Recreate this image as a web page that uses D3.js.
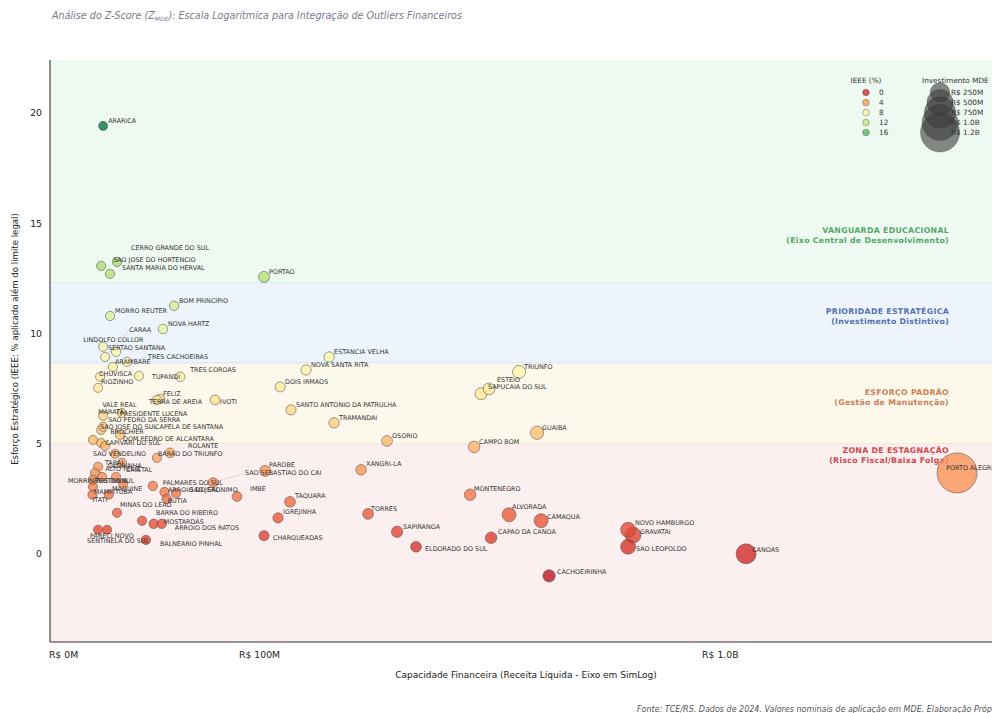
<!DOCTYPE html>
<html><head><meta charset="utf-8">
<script src="https://cdn.jsdelivr.net/npm/d3@7"></script>
<style>
body{margin:0;background:#fff}
svg{display:block}
text{font-family:"DejaVu Sans",sans-serif}
</style>
</head><body><svg id="chart" width="992" height="713"></svg>
<script>
// ---------------- DATA ----------------
const municipios = [
 "ARARICA","CERRO GRANDE DO SUL","SAO JOSE DO HORTENCIO","SANTA MARIA DO HERVAL","PORTAO",
 "BOM PRINCIPIO","MORRO REUTER","NOVA HARTZ","LINDOLFO COLLOR","SERTAO SANTANA","CARAA","TRES CACHOEIRAS","ARAMBARE",
 "CHUVISCA","RIOZINHO","TUPANDI","TRES COROAS","FELIZ","TERRA DE AREIA","IVOTI","NOVA SANTA RITA","ESTANCIA VELHA",
 "DOIS IRMAOS","SANTO ANTONIO DA PATRULHA","TRAMANDAI","OSORIO","CAMPO BOM","ESTEIO","SAPUCAIA DO SUL","TRIUNFO","GUAIBA",
 "VALE REAL","PRESIDENTE LUCENA","MARATA","SAO PEDRO DA SERRA","SAO JOSE DO SUL","CAPELA DE SANTANA","BROCHIER",
 "DOM PEDRO DE ALCANTARA","CAPIVARI DO SUL","ROLANTE","BARAO DO TRIUNFO","SAO VENDELINO","GLORINHA","TABAI","ALTO FELIZ","CRISTAL",
 "MORRINHOS DO SUL","TEUTONIA","PALMARES DO SUL","SAO JERONIMO","ARROIO DO SAL","IMBE","MAMPITUBA","MAQUINE","ITATI",
 "MINAS DO LEAO","BUTIA","BARRA DO RIBEIRO","MOSTARDAS","ARROIO DOS RATOS","BALNEARIO PINHAL","PARECI NOVO","SENTINELA DO SUL",
 "PAROBE","SAO SEBASTIAO DO CAI","XANGRI-LA","MONTENEGRO","TAQUARA","IGREJINHA","CHARQUEADAS","TORRES","SAPIRANGA",
 "ELDORADO DO SUL","CAPAO DA CANOA","ALVORADA","CAMAQUA","NOVO HAMBURGO","GRAVATAI","SAO LEOPOLDO","CANOAS","PORTO ALEGRE","CACHOEIRINHA"
];
// Receita líquida (R$ milhões)
const receitaM = [
 14.9,20.6,14.1,17.7,103.6,
 47.5,17.7,41.8,14.9,20.2,15.7,24.9,18.9,
 13.7,12.9,30.3,50.7,40.3,38.8,70.7,137.1,157.9,
 115.8,124.5,162.6,218.9,339.7,364.8,351.2,419.6,455.5,
 14.9,22.7,14.1,14.9,10.9,21.9,14.1,
 19.8,15.7,45.4,38.8,12.9,11.7,22.7,14.5,20.2,
 10.9,10.9,36.8,42.6,48.5,84.7,17.2,23.2,10.7,
 20.6,43.7,31.7,37.2,41.2,33.5,12.9,16.5,
 104.4,69.5,189.9,333.2,123.7,114.2,103.6,197.4,230.9,
 254.8,368.3,400.6,463.9,680.1,694.8,680.1,1113.8,2585,480.9
];
// IEEE (%)
const ieee = [
 19.41,13.24,13.06,12.70,12.56,
 11.25,10.79,10.20,9.39,9.16,8.93,8.71,8.48,
 8.03,7.53,8.07,8.03,7.03,6.98,6.98,8.34,8.93,
 7.57,6.53,5.94,5.12,4.85,7.48,7.26,8.25,5.49,
 6.26,6.39,5.62,5.76,5.17,5.40,5.03,
 4.54,4.90,4.58,4.35,3.95,3.67,4.13,3.49,3.49,
 3.36,3.04,3.08,2.80,2.75,2.60,2.68,3.17,2.68,
 1.86,2.49,1.50,1.36,1.36,0.63,1.09,1.09,
 3.76,3.23,3.81,2.68,2.36,1.63,0.82,1.81,1.00,
 0.32,0.73,1.77,1.50,1.09,0.85,0.32,0.0,3.67,-1.0
];
// Investimento em MDE (R$ milhões)
const mdeM = [
 3,6,5,5,34,
 8,5,8,3,4,3,6,4,
 3,3,5,10,6,6,14,20,22,
 18,18,24,30,45,50,55,74,80,
 3,4,3,3,3,8,4,
 3,4,12,4,3,3,3,3,4,
 3,4,8,10,6,14,3,5,4,
 4,10,6,8,8,6,3,3,
 34,14,26,45,30,22,20,30,40,
 30,45,95,95,120,147,120,267,1267,60
];
const xTicks = [0, 100, 1000];
const xTickLabels = ["R$ 0M", "R$ 100M", "R$ 1.0B"];
const yTicks = [0, 5, 10, 15, 20];
const faixaLimites = [5.0, 8.66, 12.3];
const faixaNomes = ["ZONA DE ESTAGNAÇÃO","ESFORÇO PADRÃO","PRIORIDADE ESTRATÉGICA","VANGUARDA EDUCACIONAL"];
const faixaSub = ["(Risco Fiscal/Baixa Folga)","(Gestão de Manutenção)","(Investimento Distintivo)","(Eixo Central de Desenvolvimento)"];
const legendaIeee = [0, 4, 8, 12, 16];
const legendaMde = [250, 500, 750, 1000, 1200];
const legendaMdeLabels = ["R$ 250M","R$ 500M","R$ 750M","R$ 1.0B","R$ 1.2B"];

// ---------------- LAYOUT / STYLE ----------------
const L = 50, T = 60, B = 642, R = 1040;
const faixaFill = ["#fcefef","#fdf8ec","#edf4fc","#eef9f1"];
const faixaLine = ["#f6d9d9","#f6ead0","#d5e5f5","#d4eedb"];
const faixaText = ["#d0484c","#c98154","#5470b2","#55a868"];
const labelNudge = {
 "CERRO GRANDE DO SUL":[9,-9],"SAO JOSE DO HORTENCIO":[7,-1],"SANTA MARIA DO HERVAL":[7,-1],
 "CARAA":[19,-22],"LINDOLFO COLLOR":[-25,-2],"SERTAO SANTANA":[-13,1],"TRES CACHOEIRAS":[16,0],"ARAMBARE":[-3,0],
 "CHUVISCA":[-6,2],"RIOZINHO":[-2,-1],"TUPANDI":[8,6],"TRES COROAS":[5,-2],"FELIZ":[-2,0],"TERRA DE AREIA":[-13,7],
 "IVOTI":[0,7],"VALE REAL":[-6,-6],"MARATA":[-8,-13.5],"PRESIDENTE LUCENA":[-7,5.5],"SAO PEDRO DA SERRA":[0,-2],
 "SAO JOSE DO SUL":[2,-8.5],"CAPELA DE SANTANA":[30,-3.5],"BROCHIER":[4,-6],"DOM PEDRO DE ALCANTARA":[3,-10],
 "CAPIVARI DO SUL":[-5,1.5],"ROLANTE":[13,-2],"BARAO DO TRIUNFO":[-4,1],"SAO VENDELINO":[-10,-8],
 "TABAI":[-22,5],"GLORINHA":[8,-2],"ALTO FELIZ":[-2,-3],"CRISTAL":[5,-2],"MORRINHOS DO SUL":[-30,6],"TEUTONIA":[-3,-1],
 "PALMARES DO SUL":[5,1.5],"MAMPITUBA":[-20,2],"MAQUINE":[-16,10],"ITATI":[-5,10],"ARROIO DO SAL":[-13,1.5],
 "SAO JERONIMO":[20,2.5],"IMBE":[8,-3],
 "PAROBE":[-1,-1],"SAO SEBASTIAO DO CAI":[27,-5],"XANGRI-LA":[0,-1],"MONTENEGRO":[-1,-1],"TAQUARA":[0,-1],
 "IGREJINHA":[0,-1],"TORRES":[-2,0],"SAPIRANGA":[1,-0.5],"CAPAO DA CANOA":[2,-1],"ALVORADA":[-2,-3],"CAMAQUA":[1,1],
 "ESTEIO":[3,-4],"SAPUCAIA DO SUL":[2,-2],
 "NOVO HAMBURGO":[2,-2],"GRAVATAI":[2,1],"SAO LEOPOLDO":[3,7],"CANOAS":[1,1],"PORTO ALEGRE":[-16,0],
 "CHARQUEADAS":[4,7],"ELDORADO DO SUL":[4,7],"CACHOEIRINHA":[3,1],"BALNEARIO PINHAL":[9,9],
 "SENTINELA DO SUL":[-25,15.5],"PARECI NOVO":[-13,11],"ARROIO DOS RATOS":[8,8.5],"MOSTARDAS":[5,2.5],"BARRA DO RIBEIRO":[9,-3.5],
 "MINAS DO LEAO":[-2,-3],"BUTIA":[-4,6.5]
};

const svg = d3.select("#chart");
const x = d3.scaleSymlog().constant(91).domain([-4.6, 3570]).range([L, R]);
const y = d3.scaleLinear().domain([-4.0, 22.4]).range([B, T]);
const color = d3.scaleSequential(d3.interpolateRdYlGn).domain([-2, 20]);
const rad = m => Math.sqrt(20 + 0.3 * m);

// title
const title = svg.append("text").attr("x", 52).attr("y", 19)
  .attr("font-size", 9.6).attr("font-style", "italic").attr("fill", "#7a7a8a");
title.append("tspan").text("Análise do Z-Score (Z");
title.append("tspan").attr("font-size", 6).attr("dy", 2).text("MDE");
title.append("tspan").attr("dy", -2).text("): Escala Logarítmica para Integração de Outliers Financeiros");

// bands
const edges = [-4.0, ...faixaLimites, 22.4];
const g = svg.append("g");
svg.append("defs").append("clipPath").attr("id","pc").append("rect")
  .attr("x", L).attr("y", T).attr("width", R - L).attr("height", B - T);
for (let i = 0; i < 4; i++) {
  g.append("rect").attr("x", L).attr("width", R - L)
   .attr("y", y(edges[i+1])).attr("height", y(edges[i]) - y(edges[i+1]))
   .attr("fill", faixaFill[i]);
}
faixaLimites.forEach((v, i) => {
  g.append("line").attr("x1", L).attr("x2", R).attr("y1", y(v)).attr("y2", y(v))
   .attr("stroke", faixaLine[i+1]).attr("stroke-width", 1);
});

// band labels
const bandLabelY = [[449.5,459.5],[391.5,401.5],[310.5,320.5],[229.5,239.5]];
for (let i = 0; i < 4; i++) {
  g.append("text").attr("x", 949).attr("y", bandLabelY[i][0] + 3).attr("text-anchor","end")
   .attr("font-size", 7.8).attr("font-weight","bold").attr("fill", faixaText[i]).attr("letter-spacing", 0.3)
   .text(faixaNomes[i]);
  g.append("text").attr("x", 949).attr("y", bandLabelY[i][1] + 3).attr("text-anchor","end")
   .attr("font-size", 7.8).attr("font-weight","bold").attr("fill", faixaText[i]).attr("letter-spacing", 0.3)
   .text(faixaSub[i]);
}

// axes
const ax = svg.append("g").attr("transform", `translate(0,${B})`)
  .call(d3.axisBottom(x).tickValues(xTicks).tickFormat((d,i)=>xTickLabels[i]).tickSize(0).tickPadding(9));
ax.select(".domain").remove();
ax.selectAll("text").attr("font-size", 9.3).attr("fill","#222").attr("font-family","DejaVu Sans");
const ay = svg.append("g").attr("transform", `translate(${L},0)`)
  .call(d3.axisLeft(y).tickValues(yTicks).tickSize(0).tickPadding(8));
ay.select(".domain").remove();
ay.selectAll("text").attr("font-size", 9.3).attr("fill","#222").attr("font-family","DejaVu Sans");
svg.append("line").attr("x1", L).attr("x2", L).attr("y1", T).attr("y2", B).attr("stroke","#333").attr("stroke-width",1.1);
svg.append("line").attr("x1", L).attr("x2", 992).attr("y1", B).attr("y2", B).attr("stroke","#333").attr("stroke-width",1.1);

svg.append("text").attr("x", 526).attr("y", 678).attr("text-anchor","middle")
  .attr("font-size", 9).attr("fill","#222").text("Capacidade Financeira (Receita Líquida - Eixo em SimLog)");
svg.append("text").attr("transform", `translate(18,${339}) rotate(-90)`).attr("text-anchor","middle")
  .attr("font-size", 8.6).attr("fill","#222").text("Esforço Estratégico (IEEE: % aplicado além do limite legal)");

// points
const data = municipios.map((n, i) => ({n, rec: receitaM[i], ieee: ieee[i], mde: mdeM[i]}));
const nud = d => labelNudge[d.n] || [0, 0];
const lx = d => x(d.rec) + 5 + nud(d)[0];
const ly = d => y(d.ieee) - 2.5 + nud(d)[1];

// leader lines (adjustText style) for displaced labels
svg.append("g").selectAll("line").data(data.filter(d => Math.hypot(nud(d)[0], nud(d)[1]) > 14)).join("line")
  .attr("x1", d => x(d.rec)).attr("y1", d => y(d.ieee))
  .attr("x2", d => lx(d) + (nud(d)[0] > 0 ? 0 : 10)).attr("y2", d => ly(d) - 2)
  .attr("stroke", "#999").attr("stroke-width", 0.5).attr("stroke-opacity", 0.6);

const pts = svg.append("g").attr("clip-path","url(#pc)");
pts.selectAll("circle").data(data.slice().sort((a,b)=>b.mde-a.mde)).join("circle")
  .attr("cx", d => x(d.rec)).attr("cy", d => y(d.ieee)).attr("r", d => rad(d.mde))
  .attr("fill", d => color(d.ieee)).attr("fill-opacity", 0.8)
  .attr("stroke", "#555").attr("stroke-opacity", 0.7).attr("stroke-width", 0.8);

// labels
svg.append("g").selectAll("text").data(data).join("text")
  .attr("x", lx).attr("y", ly)
  .attr("font-size", 6.4).attr("fill", "#333").text(d => d.n);

// legend IEEE
const lg = svg.append("g");
lg.append("text").attr("x", 866).attr("y", 83).attr("text-anchor","middle").attr("font-size", 7.3).attr("fill","#333").text("IEEE (%)");
legendaIeee.forEach((v, i) => {
  const yy = 92.5 + i * 10;
  lg.append("circle").attr("cx", 866).attr("cy", yy).attr("r", 3.3).attr("fill", color(v)).attr("fill-opacity",0.8)
    .attr("stroke","#555").attr("stroke-opacity",0.7).attr("stroke-width",0.6);
  lg.append("text").attr("x", 879).attr("y", yy + 2.6).attr("font-size", 7.3).attr("fill","#333").text(v);
});
// legend MDE
lg.append("text").attr("x", 922).attr("y", 83).attr("font-size", 7.3).attr("fill","#333").text("Investimento MDE");
legendaMde.forEach((v, i) => {
  lg.append("text").attr("x", 951).attr("y", 92.5 + i*10 + 2.6).attr("font-size", 7.3).attr("fill","#333").text(legendaMdeLabels[i]);
});
legendaMde.forEach((v, i) => {
  lg.append("circle").attr("cx", 940).attr("cy", 92.5 + i*10).attr("r", rad(v))
    .attr("fill", "#3a3a3a").attr("fill-opacity", 0.6).attr("stroke","#333").attr("stroke-opacity",0.5).attr("stroke-width",0.6);
});

// footer
svg.append("text").attr("x", 637).attr("y", 712).attr("font-size", 8).attr("font-style","italic").attr("fill","#555")
  .text("Fonte: TCE/RS. Dados de 2024. Valores nominais de aplicação em MDE. Elaboração Própria");
</script>
</body></html>
